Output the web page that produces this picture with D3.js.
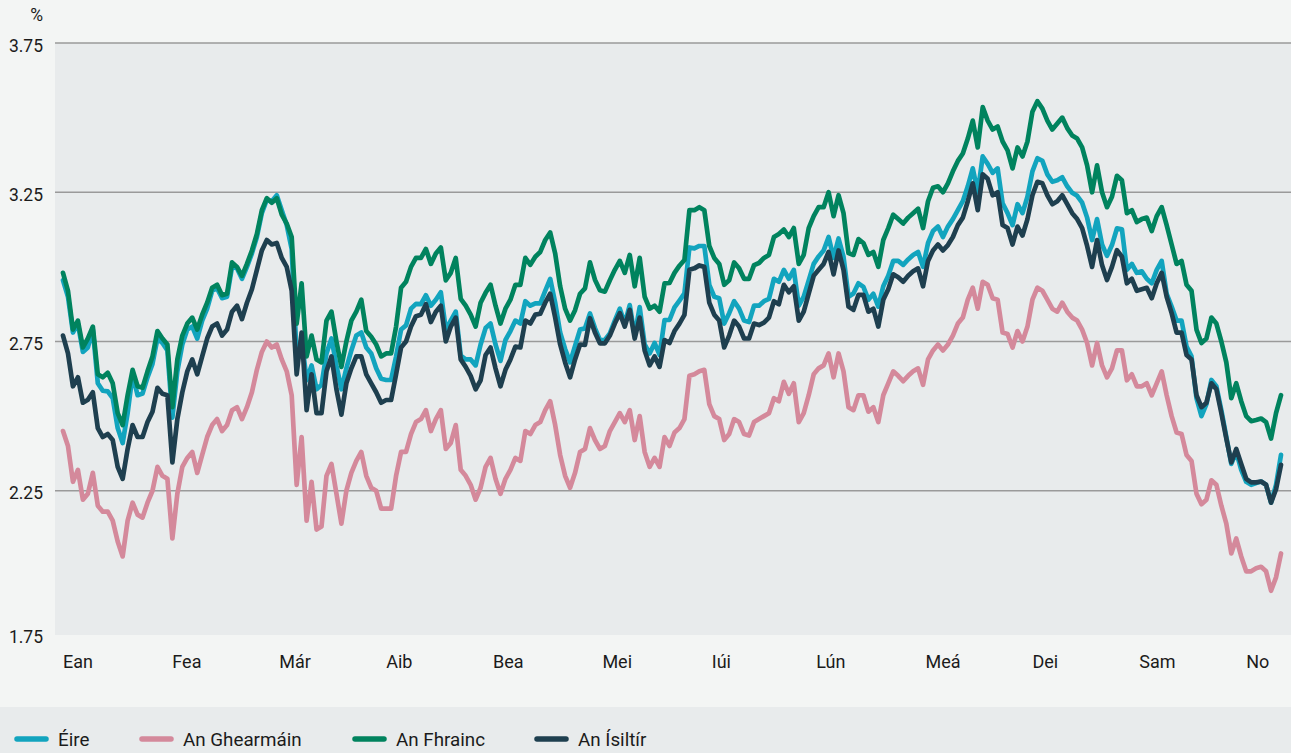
<!DOCTYPE html>
<html><head><meta charset="utf-8">
<script src="https://cdn.jsdelivr.net/npm/d3@7"></script>
<style>
html,body{margin:0;padding:0;background:#f3f5f4;}
svg{display:block;font-family:Roboto,"Noto Sans",Arial,sans-serif;}
</style></head><body>
<svg id="chart" width="1291" height="753"></svg>
<script>
// Month labels (Irish) and their positions in business-day index units
const monthLabels = ["Ean","Fea","Már","Aib","Bea","Mei","Iúi","Lún","Meá","Dei","Sam","No"];
const monthPos = [0,22,43.5,65,86.5,108.5,130.5,151.5,173.5,195,216.5,238];
const yTicks = [1.75,2.25,2.75,3.25,3.75];
const yTickLabels = ["1.75","2.25","2.75","3.25","3.75"];
const seriesNames = ["Éire","An Ghearmáin","An Fhrainc","An Ísiltír"];
const seriesColors = ["#12a4be","#d4899b","#00835e","#1e3f4f"];

const eire = [
2.955,2.90,2.78,2.81,2.715,2.73,2.79,2.61,2.585,2.583,
2.56,2.46,2.41,2.51,2.64,2.57,2.576,2.63,2.675,2.76,
2.745,2.72,2.495,2.65,2.74,2.79,2.80,2.76,2.82,2.86,
2.92,2.928,2.895,2.90,3.00,2.995,2.96,3.00,3.045,3.10,
3.18,3.225,3.22,3.24,3.19,3.14,3.06,2.70,2.76,2.62,
2.67,2.59,2.605,2.71,2.76,2.67,2.59,2.66,2.72,2.77,
2.78,2.73,2.71,2.66,2.625,2.621,2.621,2.70,2.79,2.804,
2.86,2.876,2.875,2.905,2.87,2.89,2.915,2.79,2.82,2.85,
2.703,2.69,2.69,2.67,2.74,2.795,2.81,2.74,2.685,2.755,
2.785,2.82,2.81,2.885,2.87,2.878,2.878,2.92,2.96,2.88,
2.78,2.725,2.68,2.735,2.79,2.794,2.844,2.795,2.755,2.755,
2.777,2.82,2.86,2.81,2.872,2.77,2.865,2.74,2.71,2.745,
2.705,2.822,2.822,2.864,2.887,2.911,3.065,3.062,3.07,3.07,
2.94,2.90,2.895,2.81,2.845,2.885,2.86,2.82,2.815,2.87,
2.87,2.885,2.893,2.96,2.95,2.99,2.96,2.99,2.87,2.90,
2.955,3.01,3.035,3.055,3.10,3.03,3.095,3.034,2.90,2.911,
2.945,2.933,2.89,2.91,2.867,2.935,2.97,3.02,3.02,3.007,
3.025,3.04,3.05,3.00,3.08,3.12,3.135,3.10,3.135,3.16,
3.19,3.22,3.27,3.33,3.25,3.37,3.345,3.315,3.33,3.213,
3.18,3.14,3.21,3.18,3.235,3.32,3.364,3.355,3.31,3.285,
3.29,3.30,3.27,3.248,3.238,3.215,3.165,3.09,3.16,3.075,
3.037,3.073,3.129,3.126,2.99,3.01,2.98,2.985,2.96,2.945,
2.99,3.02,2.91,2.867,2.82,2.82,2.733,2.70,2.56,2.50,
2.54,2.621,2.60,2.52,2.43,2.34,2.38,2.32,2.28,2.27,
2.276,2.281,2.27,2.21,2.27,2.37];

const germany = [
2.45,2.40,2.28,2.32,2.22,2.24,2.31,2.20,2.18,2.18,
2.15,2.08,2.03,2.15,2.21,2.17,2.16,2.21,2.25,2.33,
2.30,2.29,2.09,2.24,2.33,2.36,2.38,2.31,2.37,2.43,
2.47,2.49,2.45,2.47,2.52,2.53,2.49,2.53,2.58,2.655,
2.715,2.75,2.73,2.74,2.69,2.65,2.57,2.27,2.43,2.15,
2.28,2.12,2.13,2.30,2.34,2.24,2.14,2.25,2.31,2.35,
2.38,2.30,2.26,2.25,2.19,2.19,2.19,2.30,2.38,2.38,
2.44,2.48,2.49,2.52,2.45,2.49,2.52,2.39,2.41,2.47,
2.32,2.30,2.27,2.22,2.26,2.33,2.36,2.29,2.24,2.29,
2.32,2.36,2.35,2.45,2.44,2.47,2.48,2.52,2.55,2.47,
2.37,2.30,2.26,2.31,2.38,2.39,2.46,2.42,2.39,2.40,
2.45,2.48,2.51,2.48,2.52,2.42,2.50,2.38,2.33,2.36,
2.33,2.43,2.40,2.445,2.46,2.49,2.635,2.64,2.65,2.655,
2.54,2.50,2.49,2.42,2.44,2.49,2.48,2.44,2.435,2.48,
2.49,2.50,2.51,2.56,2.55,2.615,2.575,2.61,2.48,2.51,
2.57,2.64,2.66,2.67,2.71,2.63,2.71,2.65,2.53,2.52,
2.57,2.57,2.515,2.53,2.48,2.57,2.61,2.65,2.635,2.617,
2.635,2.65,2.66,2.605,2.69,2.72,2.74,2.72,2.74,2.77,
2.81,2.83,2.89,2.93,2.86,2.95,2.94,2.895,2.89,2.78,
2.775,2.73,2.785,2.75,2.80,2.89,2.93,2.92,2.89,2.86,
2.85,2.88,2.85,2.83,2.82,2.79,2.745,2.67,2.745,2.67,
2.63,2.66,2.72,2.72,2.62,2.64,2.60,2.60,2.61,2.57,
2.61,2.65,2.57,2.50,2.445,2.44,2.37,2.35,2.24,2.205,
2.22,2.285,2.27,2.20,2.14,2.04,2.09,2.03,1.98,1.98,
1.99,1.995,1.98,1.915,1.96,2.04];

const france = [
2.98,2.92,2.79,2.82,2.73,2.76,2.80,2.64,2.63,2.645,
2.61,2.51,2.47,2.57,2.655,2.60,2.595,2.65,2.70,2.785,
2.76,2.74,2.53,2.69,2.77,2.81,2.83,2.79,2.84,2.88,
2.93,2.94,2.905,2.91,3.015,3.00,2.97,3.01,3.055,3.11,
3.19,3.23,3.215,3.23,3.175,3.145,3.10,2.81,2.945,2.70,
2.77,2.69,2.68,2.82,2.85,2.75,2.665,2.75,2.82,2.85,
2.89,2.785,2.766,2.74,2.70,2.71,2.71,2.80,2.93,2.95,
3.00,3.03,3.03,3.06,3.01,3.045,3.065,2.955,2.98,3.03,
2.893,2.87,2.84,2.80,2.88,2.913,2.94,2.87,2.81,2.86,
2.89,2.94,2.94,3.03,3.007,3.034,3.05,3.09,3.115,3.045,
2.935,2.86,2.82,2.855,2.91,2.928,3.015,2.957,2.922,2.917,
2.955,2.99,3.02,2.98,3.04,2.935,3.03,2.90,2.86,2.87,
2.85,2.945,2.946,2.98,3.004,3.023,3.19,3.19,3.20,3.19,
3.07,3.03,3.01,2.94,2.955,3.015,2.995,2.96,2.96,3.006,
3.013,3.03,3.04,3.10,3.11,3.125,3.10,3.13,3.01,3.04,
3.13,3.17,3.20,3.20,3.25,3.17,3.24,3.18,3.046,3.04,
3.093,3.08,3.04,3.05,3.00,3.09,3.13,3.175,3.16,3.145,
3.165,3.18,3.195,3.13,3.22,3.265,3.27,3.25,3.28,3.32,
3.355,3.38,3.43,3.49,3.40,3.535,3.49,3.46,3.47,3.42,
3.39,3.33,3.40,3.37,3.42,3.52,3.555,3.53,3.49,3.46,
3.48,3.50,3.465,3.44,3.43,3.40,3.34,3.25,3.34,3.25,
3.20,3.235,3.305,3.29,3.18,3.19,3.15,3.16,3.165,3.12,
3.17,3.20,3.14,3.075,3.01,3.02,2.94,2.92,2.79,2.745,
2.76,2.83,2.81,2.75,2.68,2.56,2.61,2.55,2.50,2.483,
2.487,2.492,2.48,2.425,2.51,2.57];

const netherlands = [
2.77,2.71,2.60,2.63,2.545,2.555,2.58,2.46,2.43,2.44,
2.42,2.33,2.29,2.39,2.47,2.43,2.43,2.48,2.515,2.595,
2.575,2.57,2.345,2.49,2.58,2.65,2.69,2.64,2.70,2.76,
2.80,2.81,2.77,2.79,2.85,2.87,2.825,2.88,2.925,2.99,
3.055,3.09,3.075,3.08,3.03,3.00,2.92,2.64,2.78,2.52,
2.64,2.51,2.51,2.65,2.70,2.59,2.505,2.61,2.66,2.70,
2.70,2.64,2.61,2.58,2.545,2.554,2.554,2.64,2.73,2.75,
2.80,2.835,2.84,2.875,2.815,2.85,2.87,2.75,2.80,2.83,
2.69,2.665,2.635,2.59,2.62,2.705,2.73,2.66,2.60,2.655,
2.69,2.733,2.73,2.82,2.81,2.84,2.843,2.88,2.91,2.83,
2.74,2.68,2.63,2.69,2.74,2.739,2.828,2.78,2.744,2.744,
2.77,2.81,2.845,2.80,2.856,2.76,2.83,2.72,2.67,2.70,
2.665,2.755,2.745,2.785,2.81,2.839,2.99,2.995,3.005,3.00,
2.88,2.84,2.82,2.73,2.77,2.82,2.80,2.76,2.76,2.81,
2.805,2.813,2.83,2.885,2.875,2.94,2.915,2.935,2.82,2.85,
2.91,2.97,2.99,3.01,3.05,2.975,3.055,2.99,2.867,2.856,
2.906,2.906,2.85,2.86,2.80,2.89,2.925,2.975,2.965,2.95,
2.97,2.985,2.995,2.935,3.02,3.055,3.075,3.055,3.073,3.10,
3.14,3.165,3.22,3.28,3.19,3.31,3.295,3.24,3.25,3.14,
3.13,3.075,3.135,3.105,3.16,3.24,3.285,3.28,3.24,3.21,
3.22,3.24,3.21,3.18,3.16,3.13,3.07,3.00,3.09,3.006,
2.956,3.00,3.056,3.034,2.945,2.96,2.92,2.925,2.93,2.895,
2.945,2.98,2.90,2.845,2.78,2.78,2.705,2.69,2.57,2.53,
2.545,2.61,2.59,2.51,2.425,2.345,2.39,2.34,2.29,2.278,
2.278,2.281,2.27,2.21,2.255,2.337];

const seriesData = [eire, germany, france, netherlands];

const W = 1291, H = 753;
const svg = d3.select("#chart");
const plotLeft = 55, plotRight = W, plotTop = 43, plotBottom = 640;

const x = d3.scaleLinear().domain([0, eire.length - 1]).range([63, 1281]);
const y = d3.scaleLinear().domain([1.75, 3.75]).range([plotBottom, plotTop]);

// page background
svg.append("rect").attr("x",0).attr("y",0).attr("width",W).attr("height",H).attr("fill","#f3f5f4");
// plot panel
svg.append("rect").attr("x",plotLeft).attr("y",y(3.75))
  .attr("width",plotRight-plotLeft).attr("height",y(1.75)-y(3.75)-5).attr("fill","#e8ebec");

// gridlines (not at bottom)
svg.append("g").selectAll("line").data(yTicks.filter(v => v > 1.75)).join("line")
  .attr("x1",plotLeft).attr("x2",plotRight)
  .attr("y1",d=>y(d)).attr("y2",d=>y(d))
  .attr("stroke","#9a9a9a").attr("stroke-width",1.3);

// y labels
svg.append("g").selectAll("text").data(yTicks).join("text")
  .attr("x",43).attr("y",(d)=> d===1.75 ? y(d)-3 : y(d)+2.5)
  .attr("text-anchor","end").attr("dominant-baseline","central")
  .attr("font-size",17.5).attr("fill","#1b1b1b")
  .text((d,i)=>yTickLabels[i]);
svg.append("text").attr("x",43).attr("y",15).attr("text-anchor","end")
  .attr("dominant-baseline","central").attr("font-size",17.5).attr("fill","#1b1b1b").text("%");

// x labels
svg.append("g").selectAll("text").data(monthLabels).join("text")
  .attr("x",(d,i)=>x(monthPos[i])).attr("y",661)
  .attr("text-anchor","start").attr("dominant-baseline","central")
  .attr("font-size",18).attr("fill","#1b1b1b")
  .text(d=>d);

// lines
const line = d3.line().x((d,i)=>x(i)).y(d=>y(d)).curve(d3.curveLinear);
svg.append("g").selectAll("path").data(seriesData).join("path")
  .attr("d",d=>line(d)).attr("fill","none")
  .attr("stroke",(d,i)=>seriesColors[i]).attr("stroke-width",4.7)
  .attr("stroke-linejoin","round").attr("stroke-linecap","round");

// legend band
svg.append("rect").attr("x",0).attr("y",707).attr("width",W).attr("height",H-707).attr("fill","#e8ebec");
const legendX = [15,140,353,535];
const lg = svg.append("g").selectAll("g").data(seriesNames).join("g")
  .attr("transform",(d,i)=>`translate(${legendX[i]},739)`);
lg.append("line").attr("x1",2).attr("x2",31).attr("y1",0).attr("y2",0)
  .attr("stroke",(d,i)=>seriesColors[i]).attr("stroke-width",5.5).attr("stroke-linecap","round");
lg.append("text").attr("x",43).attr("y",1).attr("dominant-baseline","central")
  .attr("font-size",18.8).attr("fill","#1b1b1b").text(d=>d);
</script>
</body></html>
